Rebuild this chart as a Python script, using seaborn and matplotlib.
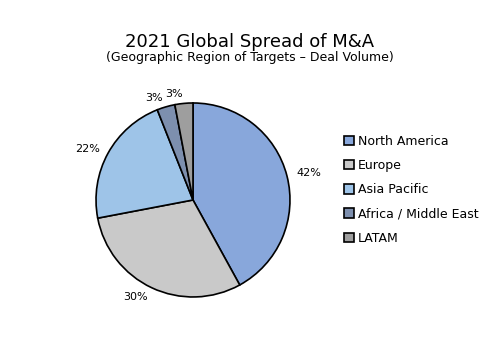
import seaborn as sns
import matplotlib.pyplot as plt

sns.set_theme(style="white")
plt.rcParams["text.color"] = "black"

regions = ["North America", "Europe", "Asia Pacific", "Africa / Middle East", "LATAM"]
shares = [42, 30, 22, 3, 3]
colors = ["#88a7db", "#c9c9c9", "#9ec4e8", "#7d8fae", "#9e9e9e"]

fig = plt.figure(figsize=(5, 3.53), dpi=100)
ax = fig.add_axes([0.19, 0.156, 0.392, 0.555])

wedges, texts = ax.pie(shares, colors=colors, startangle=90, counterclock=False,
                       labels=[f"{v}%" for v in shares], labeldistance=1.1,
                       wedgeprops=dict(edgecolor="black", linewidth=1.2),
                       textprops=dict(fontsize=8, color="black"))
ax.set_xlim(-1.01, 1.01)
ax.set_ylim(-1.01, 1.01)
ax.set_aspect("equal")

fig.text(0.5, 0.88, "2021 Global Spread of M&A", ha="center", va="center", fontsize=13)
fig.text(0.5, 0.838, "(Geographic Region of Targets – Deal Volume)", ha="center", va="center", fontsize=9)

leg = fig.legend(wedges, regions, loc="upper left", bbox_to_anchor=(0.665, 0.65),
                 frameon=False, fontsize=9, handlelength=0.8, handleheight=0.8,
                 handletextpad=0.3, labelspacing=0.9)

fig.savefig("out.png", dpi=100)
